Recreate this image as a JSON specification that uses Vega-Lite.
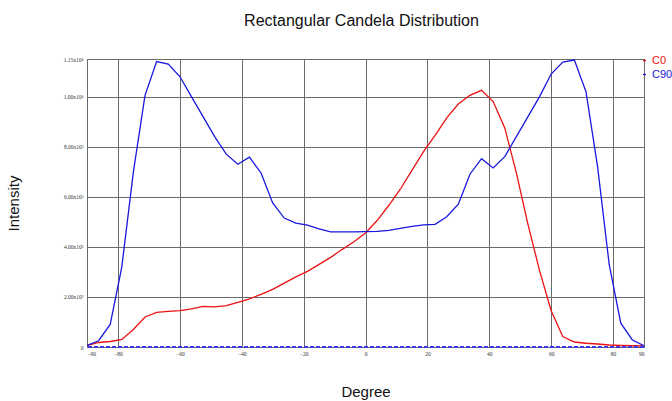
{
  "$schema": "https://vega.github.io/schema/vega-lite/v6.json",
  "autosize": {"type": "none"},
  "width": 557,
  "height": 288,
  "padding": {"left": 87, "top": 59, "right": 28, "bottom": 54},
  "background": "white",
  "title": {"text": "Rectangular Candela Distribution", "font": "Liberation Sans", "fontSize": 16, "fontWeight": "normal", "color": "#111", "anchor": "middle", "offset": 26, "dx": -4},
  "config": {
    "view": {"stroke": "#555", "strokeWidth": 1},
    "axis": {"gridColor": "#6a6a6a", "gridOpacity": 1, "gridWidth": 1, "domain": false, "ticks": false, "labelFont": "Liberation Serif", "labelFontSize": 5.5, "labelColor": "#333", "titleFont": "Liberation Sans", "titleFontSize": 15, "titleFontWeight": "normal", "titleColor": "#111"}
  },
  "data": {"values": [
    {"deg": -90, "v": 60, "s": "C0"}, {"deg": -86.25, "v": 180, "s": "C0"}, {"deg": -82.5, "v": 220, "s": "C0"}, {"deg": -78.75, "v": 300, "s": "C0"}, {"deg": -75, "v": 700, "s": "C0"}, {"deg": -71.25, "v": 1200, "s": "C0"}, {"deg": -67.5, "v": 1380, "s": "C0"}, {"deg": -63.75, "v": 1420, "s": "C0"}, {"deg": -60, "v": 1450, "s": "C0"}, {"deg": -56.25, "v": 1520, "s": "C0"}, {"deg": -52.5, "v": 1620, "s": "C0"}, {"deg": -48.75, "v": 1600, "s": "C0"}, {"deg": -45, "v": 1650, "s": "C0"}, {"deg": -41.25, "v": 1780, "s": "C0"}, {"deg": -37.5, "v": 1920, "s": "C0"}, {"deg": -33.75, "v": 2100, "s": "C0"}, {"deg": -30, "v": 2300, "s": "C0"}, {"deg": -26.25, "v": 2550, "s": "C0"}, {"deg": -22.5, "v": 2800, "s": "C0"}, {"deg": -18.75, "v": 3020, "s": "C0"}, {"deg": -15, "v": 3300, "s": "C0"}, {"deg": -11.25, "v": 3580, "s": "C0"}, {"deg": -7.5, "v": 3900, "s": "C0"}, {"deg": -3.75, "v": 4200, "s": "C0"}, {"deg": 0, "v": 4550, "s": "C0"}, {"deg": 3.75, "v": 5050, "s": "C0"}, {"deg": 7.5, "v": 5650, "s": "C0"}, {"deg": 11.25, "v": 6300, "s": "C0"}, {"deg": 15, "v": 7050, "s": "C0"}, {"deg": 18.75, "v": 7800, "s": "C0"}, {"deg": 22.5, "v": 8450, "s": "C0"}, {"deg": 26.25, "v": 9150, "s": "C0"}, {"deg": 30, "v": 9700, "s": "C0"}, {"deg": 33.75, "v": 10050, "s": "C0"}, {"deg": 37.5, "v": 10250, "s": "C0"}, {"deg": 41.25, "v": 9800, "s": "C0"}, {"deg": 45, "v": 8750, "s": "C0"}, {"deg": 48.75, "v": 6950, "s": "C0"}, {"deg": 52.5, "v": 4900, "s": "C0"}, {"deg": 56.25, "v": 3050, "s": "C0"}, {"deg": 60, "v": 1450, "s": "C0"}, {"deg": 63.75, "v": 420, "s": "C0"}, {"deg": 67.5, "v": 200, "s": "C0"}, {"deg": 71.25, "v": 150, "s": "C0"}, {"deg": 75, "v": 120, "s": "C0"}, {"deg": 78.75, "v": 80, "s": "C0"}, {"deg": 82.5, "v": 60, "s": "C0"}, {"deg": 86.25, "v": 50, "s": "C0"}, {"deg": 90, "v": 40, "s": "C0"},
    {"deg": -90, "v": 60, "s": "C90"}, {"deg": -86.25, "v": 250, "s": "C90"}, {"deg": -82.5, "v": 900, "s": "C90"}, {"deg": -78.75, "v": 3200, "s": "C90"}, {"deg": -75, "v": 7000, "s": "C90"}, {"deg": -71.25, "v": 10050, "s": "C90"}, {"deg": -67.5, "v": 11400, "s": "C90"}, {"deg": -63.75, "v": 11300, "s": "C90"}, {"deg": -60, "v": 10800, "s": "C90"}, {"deg": -56.25, "v": 10000, "s": "C90"}, {"deg": -52.5, "v": 9200, "s": "C90"}, {"deg": -48.75, "v": 8400, "s": "C90"}, {"deg": -45, "v": 7700, "s": "C90"}, {"deg": -41.25, "v": 7300, "s": "C90"}, {"deg": -37.5, "v": 7580, "s": "C90"}, {"deg": -33.75, "v": 6950, "s": "C90"}, {"deg": -30, "v": 5750, "s": "C90"}, {"deg": -26.25, "v": 5150, "s": "C90"}, {"deg": -22.5, "v": 4950, "s": "C90"}, {"deg": -18.75, "v": 4870, "s": "C90"}, {"deg": -15, "v": 4720, "s": "C90"}, {"deg": -11.25, "v": 4600, "s": "C90"}, {"deg": -7.5, "v": 4600, "s": "C90"}, {"deg": -3.75, "v": 4600, "s": "C90"}, {"deg": 0, "v": 4610, "s": "C90"}, {"deg": 3.75, "v": 4620, "s": "C90"}, {"deg": 7.5, "v": 4660, "s": "C90"}, {"deg": 11.25, "v": 4740, "s": "C90"}, {"deg": 15, "v": 4820, "s": "C90"}, {"deg": 18.75, "v": 4880, "s": "C90"}, {"deg": 22.5, "v": 4900, "s": "C90"}, {"deg": 26.25, "v": 5200, "s": "C90"}, {"deg": 30, "v": 5700, "s": "C90"}, {"deg": 33.75, "v": 6900, "s": "C90"}, {"deg": 37.5, "v": 7520, "s": "C90"}, {"deg": 41.25, "v": 7150, "s": "C90"}, {"deg": 45, "v": 7600, "s": "C90"}, {"deg": 48.75, "v": 8400, "s": "C90"}, {"deg": 52.5, "v": 9200, "s": "C90"}, {"deg": 56.25, "v": 10000, "s": "C90"}, {"deg": 60, "v": 10900, "s": "C90"}, {"deg": 63.75, "v": 11380, "s": "C90"}, {"deg": 67.5, "v": 11460, "s": "C90"}, {"deg": 71.25, "v": 10200, "s": "C90"}, {"deg": 75, "v": 7200, "s": "C90"}, {"deg": 78.75, "v": 3300, "s": "C90"}, {"deg": 82.5, "v": 950, "s": "C90"}, {"deg": 86.25, "v": 280, "s": "C90"}, {"deg": 90, "v": 50, "s": "C90"}
  ]},
  "layer": [
    {
      "mark": {"type": "line", "strokeWidth": 1.3, "clip": true},
      "encoding": {
        "x": {"field": "deg", "type": "quantitative", "title": "Degree", "scale": {"domain": [-90, 90], "nice": false, "zero": false},
              "axis": {"values": [-90, -80, -60, -40, -20, 0, 20, 40, 60, 80, 90], "labelPadding": 4, "titlePadding": 28}},
        "y": {"field": "v", "type": "quantitative", "title": "Intensity", "scale": {"domain": [0, 11500], "nice": false},
              "axis": {"values": [0, 2000, 4000, 6000, 8000, 10000, 11500], "labelPadding": 4, "titlePadding": 42,
                       "labelExpr": "datum.value == 0 ? '0' : datum.value == 11500 ? '1.15x10⁴' : datum.value == 10000 ? '1.00x10⁴' : datum.value == 8000 ? '8.00x10³' : datum.value == 6000 ? '6.00x10³' : datum.value == 4000 ? '4.00x10³' : '2.00x10³'"}},
        "color": {"field": "s", "type": "nominal", "title": null,
                  "scale": {"domain": ["C0", "C90"], "range": ["#ee1111", "#1818e0"]},
                  "legend": {"orient": "none", "legendX": 552, "legendY": -4, "padding": 0, "symbolType": "stroke", "symbolSize": 9, "symbolStrokeWidth": 1.4, "labelFont": "Liberation Sans", "labelFontSize": 11, "rowPadding": 2, "labelOffset": 2,
                             "encode": {"labels": {"update": {"fill": {"scale": "color", "field": "value"}}}}}}
      }
    },
    {
      "mark": {"type": "rule", "color": "#3a3ae8", "strokeDash": [4, 2], "strokeWidth": 1.2},
      "encoding": {"y": {"datum": 0}}
    }
  ]
}
